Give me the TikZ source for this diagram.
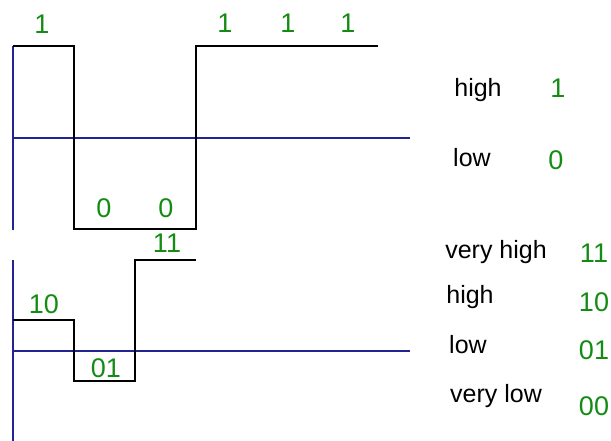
\documentclass[tikz,border=0pt]{standalone}
\usepackage{fontspec}
\setmainfont{Liberation Sans}
\definecolor{axisblue}{RGB}{35,35,145}
\definecolor{bitgreen}{RGB}{20,140,20}
\begin{document}
\begin{tikzpicture}[x=1pt,y=-1pt,
  axis/.style={axisblue,line width=1.6pt},
  signal/.style={black,line width=1.6pt},
  bit/.style={bitgreen,font=\fontsize{27}{29}\selectfont,inner sep=0pt},
  word/.style={black,font=\fontsize{25}{27}\selectfont,inner sep=0pt}]
\useasboundingbox (0,0) rectangle (611,441);
% top plot
\coordinate (ta1) at (13,46); \coordinate (ta2) at (13,230);
\coordinate (th1) at (13,138); \coordinate (th2) at (410,138);
\draw[axis] (ta1) -- (ta2);
\draw[axis] (th1) -- (th2);
\coordinate (s1) at (13,46); \coordinate (s2) at (74,46); \coordinate (s3) at (74,229);
\coordinate (s4) at (196,229); \coordinate (s5) at (196,46); \coordinate (s6) at (378,46);
\draw[signal] (s1) -- (s2) -- (s3) -- (s4) -- (s5) -- (s6);
\node[bit] (b1) at (42,24) {1};
\node[bit] (b2) at (225,23) {1};
\node[bit] (b3) at (288,23) {1};
\node[bit] (b4) at (348,23) {1};
\node[bit] (b5) at (104,208) {0};
\node[bit] (b6) at (166,208) {0};
% bottom plot
\coordinate (ba1) at (13,260); \coordinate (ba2) at (13,441);
\coordinate (bh1) at (13,351); \coordinate (bh2) at (410,351);
\draw[axis] (ba1) -- (ba2);
\draw[axis] (bh1) -- (bh2);
\coordinate (u1) at (13,320); \coordinate (u2) at (74,320); \coordinate (u3) at (74,381);
\coordinate (u4) at (135,381); \coordinate (u5) at (135,260); \coordinate (u6) at (196,260);
\draw[signal] (u1) -- (u2) -- (u3) -- (u4) -- (u5) -- (u6);
\node[bit] (c1) at (44,304) {10};
\node[bit] (c2) at (106,368) {01};
\node[bit] (c3) at (167,243) {11};
% legend top
\node[word] (w1) at (478,90) {high};
\node[bit] (g1) at (558,88) {1};
\node[word] (w2) at (472,158) {low};
\node[bit] (g2) at (556,160) {0};
% legend bottom
\node[word] (w3) at (496,252) {very high};
\node[bit] (g3) at (594,253) {11};
\node[word] (w4) at (470,297) {high};
\node[bit] (g4) at (594,302) {10};
\node[word] (w5) at (468,345) {low};
\node[bit] (g5) at (594,350) {01};
\node[word] (w6) at (496,396) {very low};
\node[bit] (g6) at (594,406) {00};
\end{tikzpicture}
\end{document}
